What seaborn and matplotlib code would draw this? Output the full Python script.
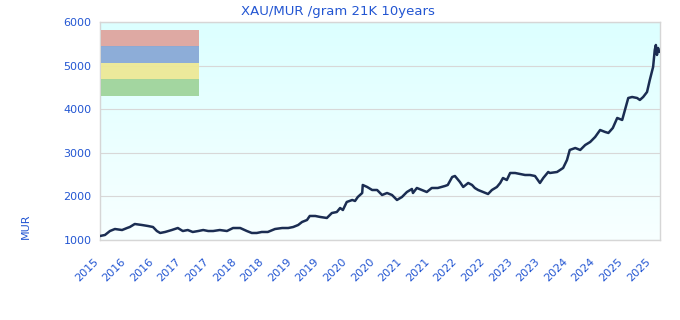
import numpy as np
import pandas as pd
import matplotlib
matplotlib.use("Agg")
import matplotlib.pyplot as plt
import seaborn as sns
from matplotlib.patches import Rectangle
from matplotlib.transforms import ScaledTranslation
from matplotlib.colors import LinearSegmentedColormap

# ---- data ----
years = [2015.79, 2015.88, 2015.97, 2016.06, 2016.19, 2016.28, 2016.33, 2016.42, 2016.55, 2016.66,
         2016.75, 2016.82, 2016.88, 2016.97, 2017.09, 2017.20, 2017.29, 2017.38, 2017.47, 2017.57,
         2017.66, 2017.75, 2017.84, 2017.96, 2018.09, 2018.20, 2018.33, 2018.45, 2018.54, 2018.63,
         2018.72, 2018.83, 2018.96, 2019.09, 2019.20, 2019.29, 2019.38, 2019.45, 2019.54, 2019.59,
         2019.69, 2019.78, 2019.90, 2019.99, 2020.08, 2020.14, 2020.19, 2020.26, 2020.36, 2020.41,
         2020.46, 2020.54, 2020.55, 2020.63, 2020.72, 2020.81, 2020.90, 2020.99, 2021.08, 2021.17,
         2021.26, 2021.35, 2021.44, 2021.46, 2021.53, 2021.62, 2021.71, 2021.80, 2021.91, 2022.04,
         2022.09, 2022.17, 2022.22, 2022.31, 2022.37, 2022.46, 2022.53, 2022.58, 2022.64, 2022.73,
         2022.82, 2022.89, 2022.98, 2023.04, 2023.09, 2023.16, 2023.22, 2023.31, 2023.40, 2023.49,
         2023.58, 2023.67, 2023.76, 2023.82, 2023.91, 2023.94, 2024.07, 2024.18, 2024.25, 2024.30,
         2024.40, 2024.49, 2024.58, 2024.67, 2024.76, 2024.85, 2024.94, 2025.00, 2025.08, 2025.16,
         2025.25, 2025.30, 2025.36, 2025.43, 2025.52, 2025.57, 2025.63, 2025.70, 2025.75, 2025.81,
         2025.84, 2025.86, 2025.88, 2025.90, 2025.92]
prices = [1092, 1115, 1206, 1252, 1229, 1275, 1298, 1367, 1344, 1321,
          1298, 1206, 1161, 1184, 1229, 1275, 1206, 1229, 1184, 1206,
          1229, 1206, 1206, 1229, 1206, 1275, 1275, 1206, 1161, 1161,
          1184, 1184, 1252, 1275, 1275, 1298, 1344, 1413, 1459, 1551,
          1551, 1528, 1505, 1619, 1642, 1734, 1688, 1872, 1918, 1895,
          1986, 2078, 2262, 2216, 2147, 2147, 2032, 2078, 2032, 1918,
          1986, 2101, 2170, 2078, 2193, 2147, 2101, 2193, 2193, 2239,
          2262, 2445, 2468, 2331, 2216, 2308, 2262, 2193, 2147, 2101,
          2055, 2147, 2216, 2308, 2422, 2376, 2537, 2537, 2514, 2491,
          2491, 2468, 2308, 2422, 2560, 2537, 2560, 2652, 2835, 3065,
          3110, 3065, 3179, 3248, 3363, 3523, 3478, 3455, 3569, 3799,
          3753, 3982, 4257, 4280, 4257, 4212, 4280, 4395, 4670, 4969,
          5359, 5473, 5244, 5404, 5313]

tick_positions = [2015.79 + 0.5 * i for i in range(21)]
tick_labels = ["2015", "2016", "2016", "2017", "2017", "2018", "2018", "2019", "2019", "2020",
               "2020", "2021", "2021", "2022", "2022", "2023", "2023", "2024", "2024", "2025", "2025"]
y_ticks = [1000, 2000, 3000, 4000, 5000, 6000]
legend_colors = ["#dfa59e", "#89a9d6", "#ede896", "#a0d49b"]

title = "XAU/MUR /gram 21K 10years"
blue = "#2356d2"

df = pd.DataFrame({"year": years, "price": prices})

sns.set_style("white")
plt.rcParams["font.family"] = ["DejaVu Sans"]

fig = plt.figure(figsize=(6.8, 3.2), dpi=100)
ax = fig.add_axes([100 / 680, 80 / 320, 560 / 680, 218 / 320])

# gradient background
grad = np.linspace(0, 1, 256).reshape(-1, 1)
cmap = LinearSegmentedColormap.from_list("bg", ["#f8ffff", "#dcffff"])
ax.imshow(grad, aspect="auto", cmap=cmap, origin="lower",
          extent=[0, 1, 0, 1], transform=ax.transAxes, zorder=0)

sns.lineplot(data=df, x="year", y="price", ax=ax, color="#1b2d52", linewidth=1.8, zorder=3)

ax.set_xlim(2015.79, 2015.79 + 560 / 55.2)
ax.set_ylim(1000, 6000)
ax.set_yticks(y_ticks)
ax.set_yticklabels([str(v) for v in y_ticks], color=blue, fontsize=8)
ax.set_xticks(tick_positions)
ax.set_xticklabels(tick_labels, rotation=45, ha="right", rotation_mode="anchor",
                   color=blue, fontsize=8)
ax.tick_params(axis="both", length=0, pad=6)
offset = ScaledTranslation(-0.07, -0.08, fig.dpi_scale_trans)
for lab in ax.get_xticklabels():
    lab.set_transform(lab.get_transform() + offset)
ax.grid(axis="y", color="#d8d8d8", linewidth=0.8, zorder=1)
ax.set_axisbelow(True)
ax.set_xlabel("")
ax.set_ylabel("")
for s in ax.spines.values():
    s.set_color("#d6d6d6")
    s.set_linewidth(1)

# legend swatches (no labels)
sw_h = 16.5 / 218
for i, c in enumerate(legend_colors):
    ax.add_patch(Rectangle((1 / 560, 1 - (8 + sw_h * 218 * (i + 1)) / 218), 98 / 560, sw_h,
                           transform=ax.transAxes, facecolor=c, edgecolor="none",
                           alpha=0.95, zorder=4))

fig.text(338 / 680, 1 - 11 / 320, title, color=blue, fontsize=9.5, ha="center", va="center")
fig.text(26 / 680, 1 - 226 / 320, "MUR", color=blue, fontsize=8, rotation=90,
         ha="center", va="center")

fig.savefig("out.png", dpi=100)
